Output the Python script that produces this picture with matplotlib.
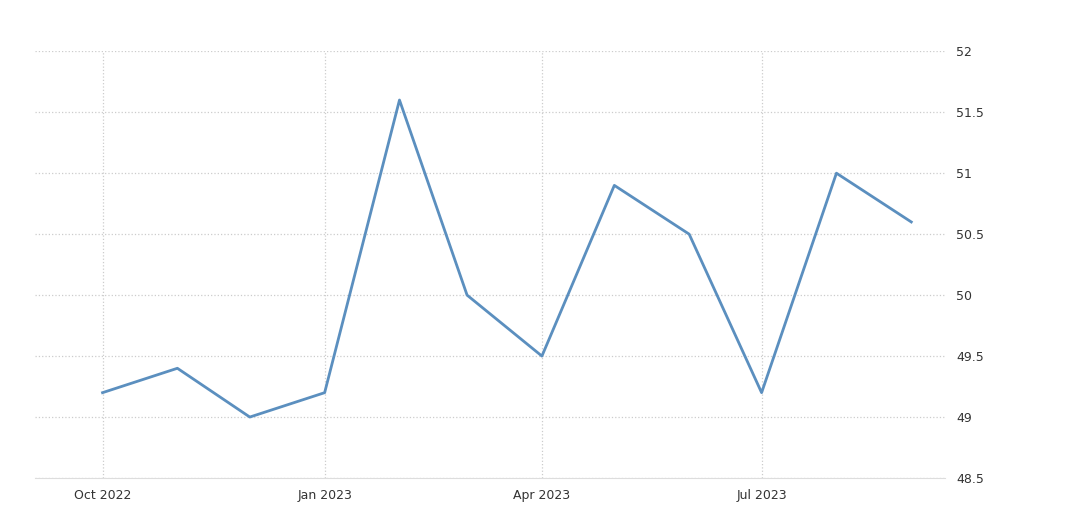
from datetime import date
import matplotlib.pyplot as plt
import matplotlib.dates as mdates

months = [date(2022, 10, 1), date(2022, 11, 1), date(2022, 12, 1), date(2023, 1, 1),
          date(2023, 2, 1), date(2023, 3, 1), date(2023, 4, 1), date(2023, 5, 1),
          date(2023, 6, 1), date(2023, 7, 1), date(2023, 8, 1), date(2023, 9, 1)]
values = [49.2, 49.4, 49.0, 49.2, 51.6, 50.0, 49.5, 50.9, 50.5, 49.2, 51.0, 50.6]
tick_dates = [date(2022, 10, 1), date(2023, 1, 1), date(2023, 4, 1), date(2023, 7, 1)]
tick_labels = ["Oct 2022", "Jan 2023", "Apr 2023", "Jul 2023"]
y_ticks = [48.5, 49, 49.5, 50, 50.5, 51, 51.5, 52]

fig = plt.figure(figsize=(10.72, 5.23), dpi=100)
ax = fig.add_axes([0.0326, 0.086, 0.849, 0.816])

ax.plot(mdates.date2num(months), values, color="#5b8fbf", linewidth=2)

ax.set_xlim(mdates.date2num(date(2022, 9, 3)), mdates.date2num(date(2023, 9, 15)))
ax.set_ylim(48.5, 52)
ax.set_xticks(mdates.date2num(tick_dates))
ax.set_xticklabels(tick_labels)
ax.set_yticks(y_ticks)
ax.set_yticklabels([f"{v:g}" for v in y_ticks])
ax.yaxis.tick_right()

ax.grid(True, color="#cccccc", linestyle=":", linewidth=0.9)
for side in ["top", "left", "right"]:
    ax.spines[side].set_visible(False)
ax.spines["bottom"].set_color("#dddddd")
ax.tick_params(axis="both", length=0, labelsize=9, colors="#333333")
ax.tick_params(axis="y", pad=8)
ax.tick_params(axis="x", pad=8)

fig.savefig("out.png", dpi=100)
